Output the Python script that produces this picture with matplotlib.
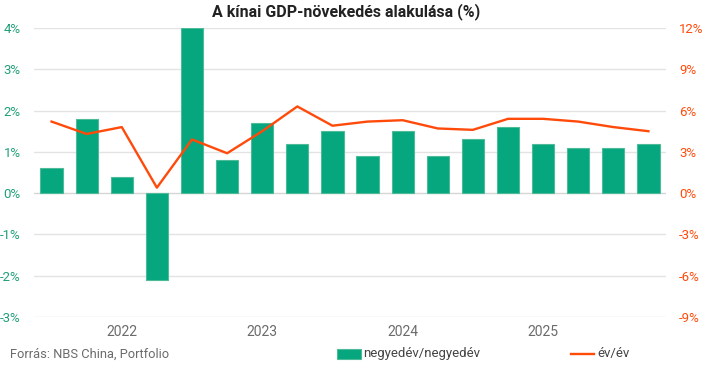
import matplotlib
matplotlib.use("Agg")
import matplotlib.pyplot as plt
from matplotlib.patches import Rectangle
from matplotlib.lines import Line2D

plt.rcParams['font.family'] = ['Roboto', 'DejaVu Sans']

quarters = ["2021Q3", "2021Q4", "2022Q1", "2022Q2", "2022Q3", "2022Q4",
            "2023Q1", "2023Q2", "2023Q3", "2023Q4", "2024Q1", "2024Q2",
            "2024Q3", "2024Q4", "2025Q1", "2025Q2", "2025Q3", "2025Q4"]
qoq = [0.6, 1.8, 0.4, -2.1, 4.0, 0.8, 1.7, 1.2, 1.5, 0.9, 1.5, 0.9,
       1.3, 1.6, 1.2, 1.1, 1.1, 1.2]
yoy = [5.2, 4.3, 4.8, 0.4, 3.9, 2.9, 4.5, 6.3, 4.9, 5.2, 5.3, 4.7,
       4.6, 5.4, 5.4, 5.2, 4.8, 4.5]
year_labels = ["2022", "2023", "2024", "2025"]
year_positions = ["2022Q1", "2023Q1", "2024Q1", "2025Q1"]
left_ticks = [-3, -2, -1, 0, 1, 2, 3, 4]
right_ticks = [-9, -6, -3, 0, 3, 6, 9, 12]

GREEN = "#06a67e"
EDGE = "#4dbb98"
ORANGE = "#ff4a0a"
LGREEN = "#1f9f78"
GRID = "#e3e3e3"
GRAY = "#6b6b6b"

W, H = 719, 367
fig = plt.figure(figsize=(W / 100, H / 100), dpi=100)
ax = fig.add_axes([34 / W, 1 - 317 / H, (666 - 34) / W, (317 - 28) / H])
ax2 = ax.twinx()

x = list(range(len(quarters)))
ax.bar(x, qoq, width=0.63, color=GREEN, edgecolor=EDGE, linewidth=0.8, zorder=3)
ax2.plot(x, yoy, color=ORANGE, linewidth=1.7, zorder=4)

ax.set_xlim(-0.5, len(quarters) - 0.5)
ax.set_ylim(-3, 4)
ax2.set_ylim(-9, 12)
ax.set_yticks(left_ticks)
ax.set_yticklabels([f"{v}%" for v in left_ticks])
ax2.set_yticks(right_ticks)
ax2.set_yticklabels([f"{v}%" for v in right_ticks])

for v in left_ticks:
    ax.axhline(v, color=GRID if v != 0 else "#d6d6d6", linewidth=1.0, zorder=1)

ax.set_xticks([quarters.index(q) for q in year_positions])
ax.set_xticklabels(year_labels)

for a in (ax, ax2):
    for s in a.spines.values():
        s.set_visible(False)
ax.tick_params(axis='y', length=0, pad=9.5, labelsize=9.5, labelcolor=LGREEN)
ax2.tick_params(axis='y', length=0, pad=9.5, labelsize=9.5, labelcolor=ORANGE)
ax.tick_params(axis='x', length=0, pad=6, labelsize=10, labelcolor=GRAY)
ax.patch.set_visible(False)

fig.text(346 / W, 1 - 12 / H, "A kínai GDP-növekedés alakulása (%)",
         ha='center', va='center', fontsize=11.5, fontweight='bold', color="#222222")

fig.text(10 / W, 1 - 354 / H, "Forrás: NBS China, Portfolio",
         ha='left', va='center', fontsize=9.3, color=GRAY)

fig.patches.append(Rectangle((337 / W, 1 - 359 / H), 24 / W, 10 / H,
                             transform=fig.transFigure, facecolor=GREEN,
                             edgecolor=EDGE, linewidth=0.8))
fig.text(363 / W, 1 - 354 / H, "negyedév/negyedév", ha='left', va='center',
         fontsize=9.5, color="#444444")
fig.lines.append(Line2D([571 / W, 594 / W], [1 - 354 / H, 1 - 354 / H],
                        transform=fig.transFigure, color=ORANGE, linewidth=1.7))
fig.text(597 / W, 1 - 354 / H, "év/év", ha='left', va='center',
         fontsize=9.5, color="#444444")

fig.savefig("out.png", dpi=100)
